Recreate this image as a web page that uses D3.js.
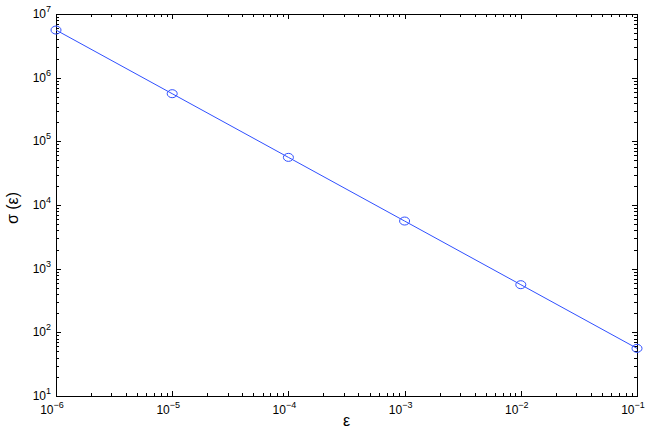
<!DOCTYPE html>
<html><head><meta charset="utf-8">
<script src="https://cdn.jsdelivr.net/npm/d3@7"></script>
<style>body{margin:0;background:#fff}svg{display:block}text{font-family:"Liberation Sans",Arial,sans-serif}</style>
</head><body>
<svg id="c" width="654" height="436"></svg>
<script>
const epsValues = [1e-6, 1e-5, 1e-4, 1e-3, 1e-2, 1e-1];
const sigmaValues = [5.6e6, 5.6e5, 5.6e4, 5.6e3, 5.6e2, 5.6e1];
const xTickExps = [-6, -5, -4, -3, -2, -1];
const yTickExps = [1, 2, 3, 4, 5, 6, 7];

const svg = d3.select("#c");
const m = {l:56, r:637, t:14, b:396};
const x = d3.scaleLog().domain([1e-6, 1e-1]).range([m.l, m.r]);
const y = d3.scaleLog().domain([1e1, 1e7]).range([m.b, m.t]);

// minor ticks
const minorX = [], minorY = [];
for (let e = -6; e < -1; e++) for (let k = 2; k <= 9; k++) minorX.push(k * Math.pow(10, e));
for (let e = 1; e < 7; e++) for (let k = 2; k <= 9; k++) minorY.push(k * Math.pow(10, e));
const g = svg.append("g").attr("stroke", "#000").attr("stroke-width", 1);
const major = 5, minor = 3;
xTickExps.forEach(e => {
  const px = Math.round(x(Math.pow(10, e))) + 0.5;
  g.append("line").attr("x1", px).attr("x2", px).attr("y1", m.b).attr("y2", m.b - major);
  g.append("line").attr("x1", px).attr("x2", px).attr("y1", m.t).attr("y2", m.t + major);
});
minorX.forEach(v => {
  const px = Math.round(x(v)) + 0.5;
  g.append("line").attr("x1", px).attr("x2", px).attr("y1", m.b).attr("y2", m.b - minor);
  g.append("line").attr("x1", px).attr("x2", px).attr("y1", m.t).attr("y2", m.t + minor);
});
yTickExps.forEach(e => {
  const py = Math.round(y(Math.pow(10, e))) + 0.5;
  g.append("line").attr("x1", m.l).attr("x2", m.l + major).attr("y1", py).attr("y2", py);
  g.append("line").attr("x1", m.r).attr("x2", m.r - major).attr("y1", py).attr("y2", py);
});
minorY.forEach(v => {
  const py = Math.round(y(v)) + 0.5;
  g.append("line").attr("x1", m.l).attr("x2", m.l + minor).attr("y1", py).attr("y2", py);
  g.append("line").attr("x1", m.r).attr("x2", m.r - minor).attr("y1", py).attr("y2", py);
});
// box
svg.append("rect").attr("x", m.l + 0.5).attr("y", m.t + 0.5)
  .attr("width", m.r - m.l).attr("height", m.b - m.t)
  .attr("fill", "none").attr("stroke", "#000").attr("stroke-width", 1);

// tick labels
xTickExps.forEach(e => {
  const t = svg.append("text").attr("x", x(Math.pow(10, e)) - 4).attr("y", m.b + 18)
    .attr("text-anchor", "middle").attr("font-size", 12);
  t.append("tspan").text("10");
  t.append("tspan").attr("dy", -6).attr("font-size", 9).text("\u2212" + (-e));
});
yTickExps.forEach(e => {
  const t = svg.append("text").attr("x", m.l - 5).attr("y", y(Math.pow(10, e)) + 4)
    .attr("text-anchor", "end").attr("font-size", 12);
  t.append("tspan").text("10");
  t.append("tspan").attr("dy", -6).attr("font-size", 9).text(e);
});

// axis labels
svg.append("text").attr("x", (m.l + m.r) / 2).attr("y", 426).attr("text-anchor", "middle")
  .attr("font-size", 16).text("ε");
svg.append("text").attr("transform", `translate(18,${(m.t + m.b) / 2 + 3}) rotate(-90)`)
  .attr("text-anchor", "middle").attr("font-size", 16).text("σ (ε)");

// data
const data = epsValues.map((e, i) => [e, sigmaValues[i]]);
svg.append("path").datum(data)
  .attr("d", d3.line().x(d => x(d[0])).y(d => y(d[1])))
  .attr("fill", "none").attr("stroke", "#3050ff").attr("stroke-width", 1);
svg.selectAll("ellipse.pt").data(data).enter().append("ellipse")
  .attr("cx", d => x(d[0])).attr("cy", d => y(d[1])).attr("rx", 5).attr("ry", 4)
  .attr("fill", "none").attr("stroke", "#3050ff").attr("stroke-width", 1);
</script>
</body></html>
